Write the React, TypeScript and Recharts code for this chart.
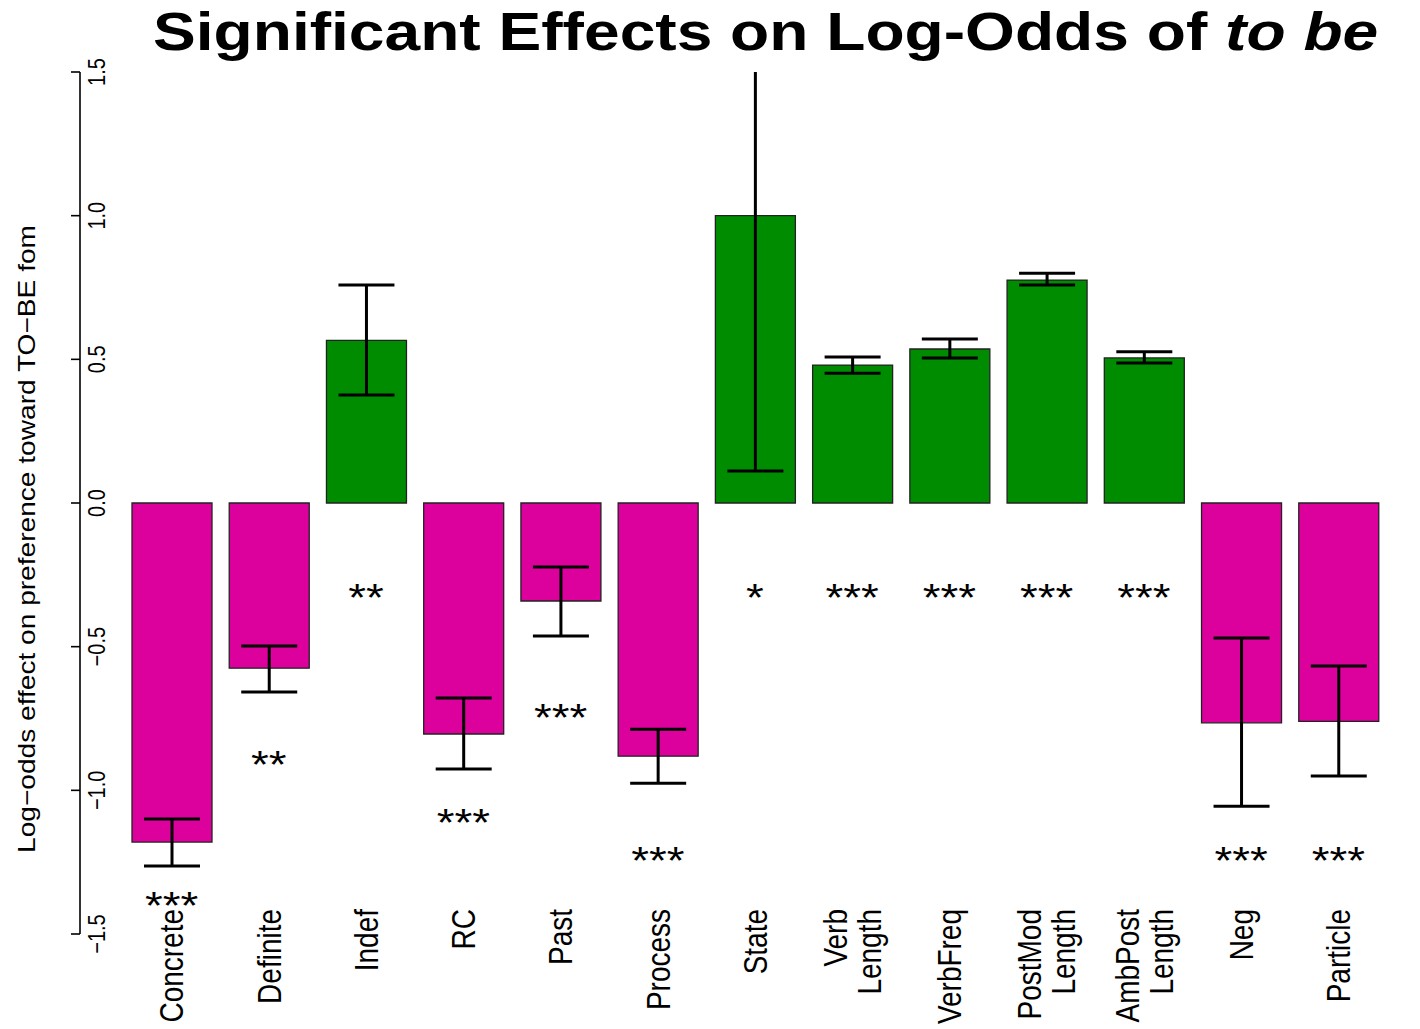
import { Bar, Cell, ComposedChart, ErrorBar, Line, XAxis, YAxis } from "recharts";

// Coefficients with 95% intervals for each predictor (log-odds scale)
const labels = [
  "Concrete",
  "Definite",
  "Indef",
  "RC",
  "Past",
  "Process",
  "State",
  "Verb\nLength",
  "VerbFreq",
  "PostMod\nLength",
  "AmbPost\nLength",
  "Neg",
  "Particle",
];
const effects = [-1.18, -0.575, 0.566, -0.804, -0.341, -0.881, 1.0, 0.48, 0.536, 0.776, 0.505, -0.765, -0.76];
const ciLow = [-1.263, -0.658, 0.376, -0.926, -0.463, -0.975, 0.111, 0.452, 0.505, 0.759, 0.487, -1.055, -0.95];
const ciHigh = [-1.1, -0.498, 0.759, -0.679, -0.223, -0.787, 1.9, 0.508, 0.571, 0.8, 0.526, -0.47, -0.567];
const stars = ["***", "**", "**", "***", "***", "***", "*", "***", "***", "***", "***", "***", "***"];
const starPos = [-1.375, -0.884, -0.303, -1.086, -0.72, -1.218, -0.303, -0.303, -0.303, -0.303, -0.303, -1.218, -1.218];
const yTicks = [-1.5, -1.0, -0.5, 0.0, 0.5, 1.0, 1.5];

const POS = "#008c00";
const NEG = "#dc009c";
const FONT = "'Liberation Sans', Arial, Helvetica, sans-serif";
const SX = 1.2; // text is drawn a little wide

const data = labels.map((name, i) => ({
  name,
  value: effects[i],
  err: [effects[i] - ciLow[i], ciHigh[i] - effects[i]],
  stars: stars[i],
  starY: starPos[i],
}));

function YTick({ x, y, payload }: any) {
  const v = Number(payload.value);
  const txt = v.toFixed(1).replace("-", "\u2212");
  return (
    <g transform={`translate(${x + 26},${y}) scale(${SX},1) rotate(-90)`}>
      <text x={0} y={0} dy="0.35em" textAnchor="middle" fontSize={20} fontFamily={FONT} fill="#000">
        {txt}
      </text>
    </g>
  );
}

function XTick({ x, y, payload }: any) {
  const lines = String(payload.value).split("\n");
  const gap = 34 / SX;
  return (
    <g transform={`translate(${x},${y - 25}) scale(${SX},1) rotate(-90)`}>
      <text textAnchor="end" fontSize={28} fontFamily={FONT} fill="#000">
        {lines.map((line, i) => (
          <tspan key={i} x={0} y={(i - (lines.length - 1) / 2) * gap} dy="0.35em">
            {line}
          </tspan>
        ))}
      </text>
    </g>
  );
}

function StarDot({ cx, cy, payload, index }: any) {
  return (
    <text
      key={`star-${index}`}
      transform={`translate(${cx},${cy}) scale(${SX},1)`}
      dy={21}
      textAnchor="middle"
      fontSize={38}
      fontFamily={FONT}
      fill="#000"
    >
      {payload.stars}
    </text>
  );
}

export default function App() {
  return (
    <div style={{ position: "absolute", left: 0, top: 0, width: 1420, height: 1029, background: "#fff" }}>
      {/* whiskers running past the axis limits are cut at the plot box */}
      <style>{".recharts-errorBars, .recharts-errorBar { clip-path: url(#plot-box); }"}</style>
      <svg width={0} height={0} style={{ position: "absolute" }}>
        <defs>
          <clipPath id="plot-box" clipPathUnits="userSpaceOnUse">
            <rect x={0} y={72} width={1420} height={957} />
          </clipPath>
        </defs>
      </svg>
      <ComposedChart width={1420} height={1029} data={data} margin={{ top: 72, right: 33, bottom: 0, left: 0 }}>
        <XAxis
          dataKey="name"
          type="category"
          interval={0}
          height={95}
          padding={{ left: 43, right: 0 }}
          axisLine={false}
          tickLine={false}
          tickSize={0}
          tickMargin={0}
          tick={<XTick />}
        />
        <YAxis
          type="number"
          domain={[-1.5, 1.5]}
          ticks={yTicks}
          allowDataOverflow
          interval={0}
          width={80}
          tickSize={9}
          tickMargin={0}
          axisLine={{ stroke: "#000", strokeWidth: 1.6 }}
          tickLine={{ stroke: "#000", strokeWidth: 1.6 }}
          tick={<YTick />}
        />
        <Bar dataKey="value" barSize={80} stroke="#222" strokeWidth={1.3} isAnimationActive={false}>
          {data.map((d, i) => (
            <Cell key={`cell-${i}`} fill={d.value >= 0 ? POS : NEG} />
          ))}
          <ErrorBar dataKey="err" direction="y" width={28} stroke="#000" strokeWidth={3} />
        </Bar>
        <Line
          dataKey="starY"
          stroke="none"
          dot={StarDot}
          activeDot={false}
          legendType="none"
          isAnimationActive={false}
        />
      </ComposedChart>
      <svg width={1420} height={1029} style={{ position: "absolute", left: 0, top: 0, pointerEvents: "none" }}>
        <text transform="translate(153,50) scale(1.21,1)" fontSize={53} fontWeight="bold" fontFamily={FONT} fill="#000">
          Significant Effects on Log-Odds of <tspan fontStyle="italic">to be</tspan>
        </text>
        <g transform="translate(35,539) rotate(-90)">
          <text
            textAnchor="middle"
            fontSize={24}
            textLength={628}
            lengthAdjust="spacingAndGlyphs"
            fontFamily={FONT}
            fill="#000"
          >
            {"Log\u2212odds effect on preference toward TO\u2212BE fom"}
          </text>
        </g>
      </svg>
    </div>
  );
}
